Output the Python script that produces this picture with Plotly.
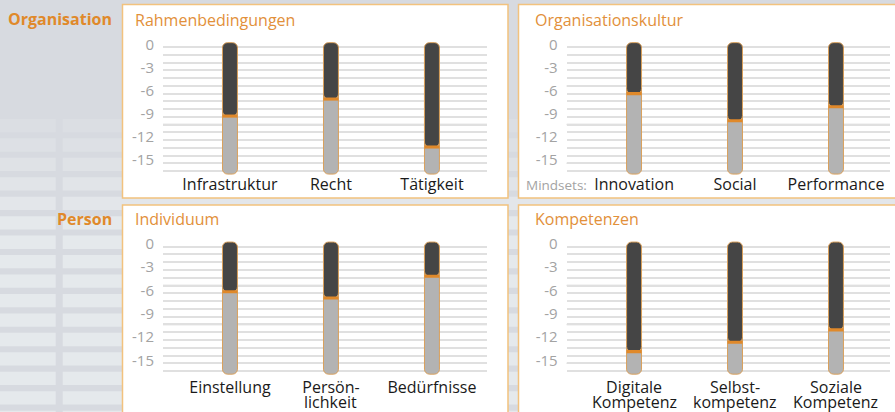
import plotly.graph_objects as go

W, H = 895, 412

# ---------------- data ----------------
group_labels = ["Organisation", "Person"]
panel_titles = ["Rahmenbedingungen", "Organisationskultur", "Individuum", "Kompetenzen"]
categories = [
    ["Infrastruktur", "Recht", "Tätigkeit"],
    ["Innovation", "Social", "Performance"],
    ["Einstellung", "Persön-\nlichkeit", "Bedürfnisse"],
    ["Digitale\nKompetenz", "Selbst-\nkompetenz", "Soziale\nKompetenz"],
]
values = [
    [-8.9, -6.7, -12.9],
    [-6.0, -9.5, -7.7],
    [-5.8, -6.6, -3.8],
    [-13.5, -12.3, -10.7],
]
scale_top = 0.6
scale_bottom = -16.4
ytick_vals = [0, -3, -6, -9, -12, -15]
major_lines = [-5, -10, -15]
marker_band = 0.4

# ---------------- style ----------------
ORANGE = "#e0892a"
ORANGE_TXT = "#e2903a"
OUTLINE = "#d9a05c"
PANEL_BORDER = "#f2c27e"
DARK = "#454545"
LIGHT = "#b3b3b3"
BG = "#d7dae0"
FONT = "Open Sans"


def fx(px):
    return px / W


def fy(px):
    return 1 - px / H


x_dom_px = [(163, 487), (566.7, 890), (163, 487), (566.7, 890)]
x_ranges = [[-0.663, 2.545], [-0.667, 2.535], [-0.663, 2.545], [-0.667, 2.535]]
y_dom_px = [(40, 176), (40, 176), (239.4, 375.4), (239.4, 375.4)]
y_ranges = [[-16.65, 0.94], [-16.65, 0.94], [-16.56, 0.94], [-16.56, 0.94]]
panel_px = [(122.5, 4.5, 508, 198), (518.5, 4.5, 897, 198),
            (122.5, 205, 508, 416), (518.5, 205, 897, 416)]
title_px = [(133, 20), (532.5, 20), (133, 219), (532.5, 219)]
xlabel_standoff = [-3, -3, 1, 1]

fig = go.Figure()
shapes = []
annotations = []

# background pattern (decorative rows)
row_top = 196.7
period = 19.45
for k in range(-4, 12):
    y0 = row_top + k * period
    y1 = y0 + 13.3
    t = min(1.0, max(0.0, (y0 - 100) / 120))
    c0 = (217, 220, 225)
    c1 = (229, 233, 236)
    col = "rgb(%d,%d,%d)" % tuple(round(a + (b - a) * t) for a, b in zip(c0, c1))
    for (xa, xb) in [(-5, 55.7), (62.7, 900)]:
        shapes.append(dict(type="rect", xref="paper", yref="paper", layer="below",
                           x0=fx(xa), x1=fx(xb), y0=fy(y1), y1=fy(y0),
                           fillcolor=col, line=dict(width=0)))

for i in range(4):
    n = i + 1
    xa = "x" if n == 1 else "x%d" % n
    ya = "y" if n == 1 else "y%d" % n
    xkey = "xaxis" if n == 1 else "xaxis%d" % n
    ykey = "yaxis" if n == 1 else "yaxis%d" % n

    # panel box
    px0, py0, px1, py1 = panel_px[i]
    shapes.append(dict(type="rect", xref="paper", yref="paper", layer="below",
                       x0=fx(px0), x1=fx(px1), y0=fy(py1), y1=fy(py0),
                       fillcolor="white", line=dict(color=PANEL_BORDER, width=1.5)))
    # emphasised grid lines
    for v in major_lines:
        shapes.append(dict(type="line", xref=xa + " domain", yref=ya, layer="below",
                           x0=0, x1=1, y0=v, y1=v, line=dict(color="#cdcdcd", width=1.5)))

    cats = categories[i]
    vals = values[i]
    xs = list(range(len(cats)))
    first_lines = [c.split("\n")[0] for c in cats]

    # light scale body: from 0 down to the scale bottom (rounded bottom end)
    fig.add_trace(go.Bar(
        x=xs, y=[scale_bottom] * len(vals), xaxis=xa, yaxis=ya,
        width=0.148, marker=dict(color=LIGHT, line=dict(color=OUTLINE, width=1), cornerradius=5),
        hoverinfo="skip", showlegend=False))
    # dark part: from value up to the scale top (rounded top end)
    fig.add_trace(go.Bar(
        x=xs, base=vals, y=[scale_top - v for v in vals], xaxis=xa, yaxis=ya,
        width=0.148, marker=dict(color=DARK, line=dict(color=OUTLINE, width=1), cornerradius=5),
        hoverinfo="skip", showlegend=False))
    # orange value band
    fig.add_trace(go.Bar(
        x=xs, base=[v - marker_band / 2 for v in vals], y=[marker_band] * len(vals),
        xaxis=xa, yaxis=ya, width=0.148,
        marker=dict(color=ORANGE, line=dict(width=0)),
        hoverinfo="skip", showlegend=False))

    fig.layout[xkey] = dict(
        domain=[fx(x_dom_px[i][0]), fx(x_dom_px[i][1])], range=x_ranges[i],
        anchor=ya, tickvals=xs, ticktext=first_lines, showgrid=False, zeroline=False,
        showline=False, ticks="", ticklabelstandoff=xlabel_standoff[i], automargin=False,
        tickfont=dict(size=16, color="#1a1a1a", family=FONT),
        fixedrange=True)
    fig.layout[ykey] = dict(
        domain=[fy(y_dom_px[i][1]), fy(y_dom_px[i][0])], range=y_ranges[i],
        anchor=xa, tickvals=ytick_vals, ticktext=[str(v) for v in ytick_vals],
        showgrid=True, gridcolor="#e0e0e0", gridwidth=1.5, zeroline=False, showline=False,
        ticks="", ticklabelstandoff=8, ticklabelshift=-3, automargin=False,
        minor=dict(dtick=1, tick0=0, showgrid=True, gridcolor="#e0e0e0", gridwidth=1.5),
        tickfont=dict(size=15, color="#a3a3a3", family=FONT), fixedrange=True)

    # second line of two-line labels
    for j, c in enumerate(cats):
        parts = c.split("\n")
        if len(parts) > 1:
            annotations.append(dict(xref=xa, yref="paper", x=j, y=fy(402), text=parts[1],
                                    showarrow=False, xanchor="center", yanchor="middle",
                                    font=dict(size=16, color="#1a1a1a", family=FONT)))

    # panel title
    tx, ty = title_px[i]
    annotations.append(dict(xref="paper", yref="paper", x=fx(tx), y=fy(ty), text=panel_titles[i],
                            showarrow=False, xanchor="left", yanchor="middle",
                            font=dict(size=16, color=ORANGE_TXT, family=FONT)))

annotations.append(dict(xref="paper", yref="paper", x=fx(114), y=fy(19), text="<b>%s</b>" % group_labels[0],
                        showarrow=False, xanchor="right", yanchor="middle",
                        font=dict(size=16, color=ORANGE, family=FONT)))
annotations.append(dict(xref="paper", yref="paper", x=fx(114), y=fy(219), text="<b>%s</b>" % group_labels[1],
                        showarrow=False, xanchor="right", yanchor="middle",
                        font=dict(size=16, color=ORANGE, family=FONT)))
annotations.append(dict(xref="paper", yref="paper", x=fx(589), y=fy(185), text="Mindsets:",
                        showarrow=False, xanchor="right", yanchor="middle",
                        font=dict(size=13.5, color="#a3a3a3", family=FONT)))

fig.update_layout(
    width=W, height=H, margin=dict(l=0, r=0, t=0, b=0, autoexpand=False),
    paper_bgcolor=BG, plot_bgcolor="rgba(0,0,0,0)",
    barmode="overlay", shapes=shapes, annotations=annotations,
    font=dict(family=FONT), showlegend=False,
)

fig.write_html("out.html", config={"displayModeBar": False},
               post_script="document.body.style.margin='0';document.body.style.padding='0';document.body.style.overflow='hidden';")
